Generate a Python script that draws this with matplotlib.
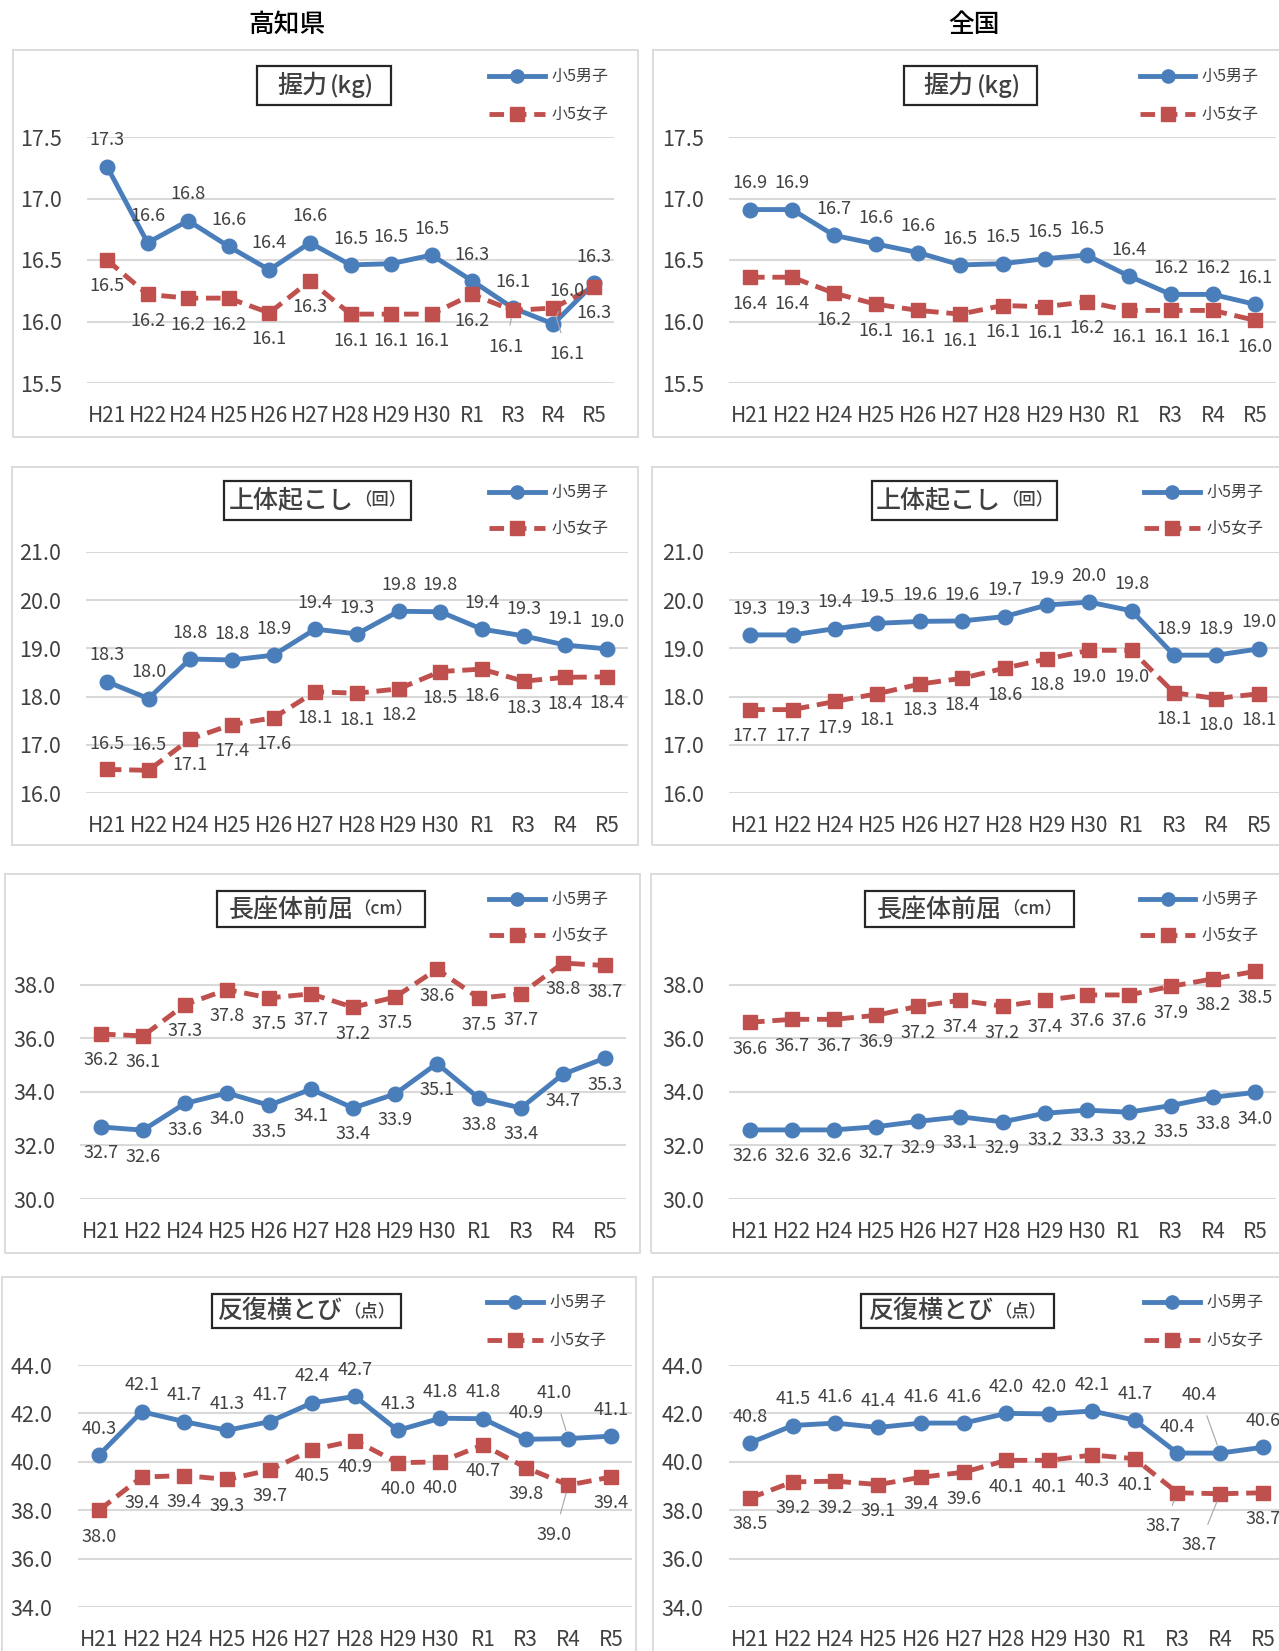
import matplotlib
matplotlib.use('Agg')
import matplotlib.pyplot as plt
from matplotlib.patches import Rectangle
from matplotlib.lines import Line2D

plt.rcParams['font.family'] = ['Noto Sans CJK JP', 'DejaVu Sans']

# data
years = ['H21', 'H22', 'H24', 'H25', 'H26', 'H27', 'H28', 'H29', 'H30', 'R1', 'R3', 'R4', 'R5']

kochi_grip_boys = [17.26, 16.64, 16.82, 16.61, 16.42, 16.64, 16.46, 16.47, 16.54, 16.33, 16.11, 15.98, 16.31]
kochi_grip_girls = [16.50, 16.22, 16.19, 16.19, 16.07, 16.33, 16.06, 16.06, 16.06, 16.22, 16.09, 16.11, 16.28]
nat_grip_boys = [16.91, 16.91, 16.70, 16.63, 16.56, 16.46, 16.47, 16.51, 16.54, 16.37, 16.22, 16.22, 16.14]
nat_grip_girls = [16.36, 16.36, 16.23, 16.14, 16.09, 16.06, 16.13, 16.12, 16.16, 16.09, 16.09, 16.09, 16.01]

kochi_situp_boys = [18.31, 17.96, 18.78, 18.76, 18.86, 19.40, 19.30, 19.77, 19.76, 19.40, 19.26, 19.07, 18.99]
kochi_situp_girls = [16.49, 16.47, 17.12, 17.42, 17.56, 18.10, 18.07, 18.16, 18.52, 18.57, 18.32, 18.40, 18.41]
nat_situp_boys = [19.28, 19.28, 19.41, 19.52, 19.56, 19.57, 19.66, 19.90, 19.96, 19.78, 18.86, 18.86, 18.99]
nat_situp_girls = [17.73, 17.73, 17.90, 18.06, 18.26, 18.38, 18.59, 18.78, 18.96, 18.96, 18.08, 17.96, 18.06]

kochi_reach_boys = [32.69, 32.57, 33.57, 33.96, 33.50, 34.10, 33.40, 33.92, 35.06, 33.76, 33.40, 34.66, 35.26]
kochi_reach_girls = [36.16, 36.09, 37.26, 37.82, 37.51, 37.66, 37.16, 37.54, 38.58, 37.50, 37.66, 38.81, 38.72]
nat_reach_boys = [32.58, 32.58, 32.58, 32.70, 32.90, 33.07, 32.88, 33.20, 33.32, 33.24, 33.49, 33.80, 33.98]
nat_reach_girls = [36.60, 36.71, 36.71, 36.86, 37.20, 37.42, 37.20, 37.42, 37.62, 37.62, 37.94, 38.22, 38.50]

kochi_step_boys = [40.28, 42.07, 41.66, 41.30, 41.66, 42.44, 42.70, 41.30, 41.80, 41.78, 40.93, 40.96, 41.06]
kochi_step_girls = [38.00, 39.37, 39.43, 39.27, 39.66, 40.50, 40.88, 39.96, 40.00, 40.70, 39.76, 39.04, 39.37]
nat_step_boys = [40.78, 41.50, 41.60, 41.42, 41.60, 41.60, 42.00, 41.98, 42.10, 41.72, 40.36, 40.36, 40.60]
nat_step_girls = [38.50, 39.17, 39.20, 39.06, 39.36, 39.57, 40.06, 40.06, 40.28, 40.13, 38.72, 38.68, 38.72]

legend_boys = '小5男子'
legend_girls = '小5女子'

BLUE = '#4a7ebb'
RED = '#c0504d'
GRID = '#d9d9d9'
TXT = '#404040'

W, H = 1279, 1651
fig = plt.figure(figsize=(W / 100, H / 100), dpi=100)


def fy(y):
    return 1 - y / H


# panel layout (pixel coords)
panels = [
    dict(key='kg', title='握力', unit='(kg)', usize=17, boys=kochi_grip_boys, girls=kochi_grip_girls,
         ylim=(15.5, 17.5), yticks=[15.5, 16.0, 16.5, 17.0, 17.5], ax=(86.7, 137, 527.6, 383),
         frame=(12.6, 50, 638, 437), tbox=(257, 66, 391, 105), leg=(489, 545, 76, 114),
         bside=1, gside=-1),
    dict(key='ng', title='握力', unit='(kg)', usize=17, boys=nat_grip_boys, girls=nat_grip_girls,
         ylim=(15.5, 17.5), yticks=[15.5, 16.0, 16.5, 17.0, 17.5], ax=(729, 137, 547, 383),
         frame=(653, 50, 1290, 437), tbox=(904, 66, 1037, 105), leg=(1140, 1195, 76, 114),
         bside=1, gside=-1),
    dict(key='ks', title='上体起こし', unit='（回）', usize=12.5, boys=kochi_situp_boys, girls=kochi_situp_girls,
         ylim=(16, 21), yticks=[16, 17, 18, 19, 20, 21], ax=(86, 552, 541.7, 793),
         frame=(12, 467, 638, 845), tbox=(224, 481, 411, 520), leg=(489, 545, 492, 528),
         bside=1, gside=-1),
    dict(key='ns', title='上体起こし', unit='（回）', usize=12.5, boys=nat_situp_boys, girls=nat_situp_girls,
         ylim=(16, 21), yticks=[16, 17, 18, 19, 20, 21], ax=(729, 552, 551, 793),
         frame=(652, 467, 1290, 845), tbox=(872, 481, 1057, 520), leg=(1144, 1200, 492, 528),
         bside=1, gside=-1),
    dict(key='kr', title='長座体前屈', unit='（cm）', usize=12.5, boys=kochi_reach_boys, girls=kochi_reach_girls,
         ylim=(30, 39), yticks=[30, 32, 34, 36, 38], ax=(80, 958, 546, 1199),
         frame=(5, 874, 640, 1253), tbox=(217, 891, 425, 927), leg=(489, 545, 899, 935),
         bside=-1, gside=-1),
    dict(key='nr', title='長座体前屈', unit='（cm）', usize=12.5, boys=nat_reach_boys, girls=nat_reach_girls,
         ylim=(30, 39), yticks=[30, 32, 34, 36, 38], ax=(729, 958, 547, 1199),
         frame=(651, 874, 1290, 1253), tbox=(865, 891, 1074, 927), leg=(1140, 1195, 899, 935),
         bside=-1, gside=-1),
    dict(key='kt', title='反復横とび', unit='（点）', usize=12.5, boys=kochi_step_boys, girls=kochi_step_girls,
         ylim=(34, 44), yticks=[34, 36, 38, 40, 42, 44], ax=(77.7, 1365, 554.7, 1607),
         frame=(2, 1277, 636, 1700), tbox=(212, 1294, 401, 1328), leg=(487, 543, 1302, 1340),
         bside=1, gside=-1),
    dict(key='nt', title='反復横とび', unit='（点）', usize=12.5, boys=nat_step_boys, girls=nat_step_girls,
         ylim=(34, 44), yticks=[34, 36, 38, 40, 42, 44], ax=(728.6, 1365, 555.7, 1607),
         frame=(653, 1277, 1290, 1700), tbox=(861, 1294, 1054, 1328), leg=(1144, 1200, 1302, 1340),
         bside=1, gside=-1),
]

# label offsets (points) that differ from the default
tweaks = {
    ('kg', 'g', 10): (-5, -26), ('kg', 'b', 11): (10, 24), ('kg', 'g', 11): (10, -33),
    ('ks', 'g', 0): (0, 18), ('ks', 'g', 1): (0, 18),
    ('kt', 'b', 11): (-10, 33), ('kt', 'g', 11): (-10, -36),
    ('nt', 'b', 11): (-15, 42), ('nt', 'g', 10): (-10, -24), ('nt', 'g', 11): (-15, -37),
}

x = list(range(len(years)))
renderer = fig.canvas.get_renderer()

for p in panels:
    fx0, fy0, fx1, fy1 = p['frame']
    fig.add_artist(Rectangle((fx0 / W, fy(fy1)), (fx1 - fx0) / W, (fy1 - fy0) / H,
                             transform=fig.transFigure, fill=False, ec=GRID, lw=1.3))

    left, top, width, bottom = p['ax']
    ax = fig.add_axes([left / W, fy(bottom), width / W, (bottom - top) / H])
    ax.set_xlim(-0.5, len(years) - 0.5)
    ax.set_ylim(*p['ylim'])
    ax.set_yticks(p['yticks'])
    ax.set_yticklabels(['%.1f' % v for v in p['yticks']])
    ax.set_xticks(x)
    ax.set_xticklabels(years)
    ax.tick_params(axis='y', length=0, pad=18, labelsize=15.5, labelcolor=TXT)
    ax.tick_params(axis='x', length=0, pad=15.5, labelsize=15, labelcolor=TXT)
    for s in ax.spines.values():
        s.set_visible(False)
    ax.yaxis.grid(True, color=GRID, lw=1.5)
    ax.set_axisbelow(True)
    ax.patch.set_alpha(0)

    ax.plot(x, p['boys'], color=BLUE, lw=3.5, marker='o', ms=10.5, zorder=3, clip_on=False)
    ax.plot(x, p['girls'], color=RED, lw=3.5, ls=(0, (3, 1.6)), marker='s', ms=10.5, zorder=3, clip_on=False)

    for tag, vals, side in (('b', p['boys'], p['bside']), ('g', p['girls'], p['gside'])):
        for i, v in enumerate(vals):
            dx, dy = tweaks.get((p['key'], tag, i), (0, 19 * side))
            lead = (p['key'], tag, i) in tweaks and abs(dy) > 22
            ax.annotate('%.1f' % v, (i, v), xytext=(dx, dy), textcoords='offset points',
                        ha='center', va='center', fontsize=13, color=TXT, zorder=5,
                        arrowprops=dict(arrowstyle='-', color='#a6a6a6', lw=0.8,
                                        shrinkA=7, shrinkB=6) if lead else None)

    # title box
    bx0, by0, bx1, by1 = p['tbox']
    fig.add_artist(Rectangle((bx0 / W, fy(by1)), (bx1 - bx0) / W, (by1 - by0) / H,
                             transform=fig.transFigure, fill=False, ec='#262626', lw=1.6))
    cy = fy((by0 + by1) / 2)
    t1 = fig.text(0, cy, p['title'], fontsize=18, color=TXT, va='center', ha='left', fontweight='medium')
    t2 = fig.text(0, cy, p['unit'], fontsize=p['usize'], color=TXT, va='center', ha='left', fontweight='medium')
    w1 = t1.get_window_extent(renderer).width
    w2 = t2.get_window_extent(renderer).width
    start = (bx0 + bx1) / 2 - (w1 + w2) / 2
    t1.set_x(start / W)
    t2.set_x((start + w1 + (3 if p['usize'] > 14 else 0)) / W)

    # legend
    lx0, lx1, ly_b, ly_g = p['leg']
    fig.add_artist(Line2D([lx0 / W, lx1 / W], [fy(ly_b)] * 2, transform=fig.transFigure,
                          color=BLUE, lw=3.5))
    fig.add_artist(Line2D([(lx0 + lx1) / 2 / W], [fy(ly_b)], transform=fig.transFigure,
                          color=BLUE, marker='o', ms=9.5, lw=0))
    fig.add_artist(Line2D([lx0 / W, lx1 / W], [fy(ly_g)] * 2, transform=fig.transFigure,
                          color=RED, lw=3.5, ls=(0, (3, 1.6))))
    fig.add_artist(Line2D([(lx0 + lx1) / 2 / W], [fy(ly_g)], transform=fig.transFigure,
                          color=RED, marker='s', ms=9.5, lw=0))
    fig.text((lx1 + 7) / W, fy(ly_b), legend_boys, fontsize=11.5, color=TXT, va='center')
    fig.text((lx1 + 7) / W, fy(ly_g), legend_girls, fontsize=11.5, color=TXT, va='center')

fig.text(287 / W, fy(24), '高知県', fontsize=18.5, ha='center', va='center', color='black', fontweight='medium')
fig.text(974 / W, fy(24), '全国', fontsize=18.5, ha='center', va='center', color='black', fontweight='medium')

fig.savefig('out.png', dpi=100, facecolor='white')
